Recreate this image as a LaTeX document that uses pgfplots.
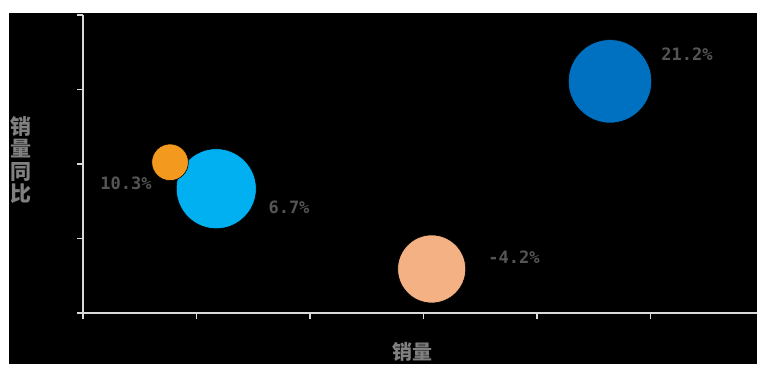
\documentclass[border=0pt]{standalone}
\usepackage{pgfplots}
\pgfplotsset{compat=1.18}
\usepackage{fontspec}
\setmainfont{Liberation Sans}
\newfontfamily\cjk{Noto Sans CJK SC}
\newfontfamily\lblfont{DejaVu Sans Mono}
\definecolor{axgray}{HTML}{D9D9D9}
\definecolor{lblgray}{HTML}{555555}
\definecolor{titlegray}{HTML}{808080}
\definecolor{cOrange}{HTML}{F39A1E}
\definecolor{cLBlue}{HTML}{00B0F0}
\definecolor{cPeach}{HTML}{F4B183}
\definecolor{cDBlue}{HTML}{0070C0}
\begin{document}
\begin{tikzpicture}[x=1pt,y=1pt]
\useasboundingbox (0,0) rectangle (757,364);
\fill[white] (0,0) rectangle (757,364);
\fill[black] (9,0) rectangle (757,351);
\begin{axis}[
  at={(83pt,51pt)}, anchor=origin,
  scale only axis, width=674pt, height=298pt,
  xmin=0, xmax=5.938, ymin=0, ymax=4,
  axis x line=bottom, axis y line=left,
  axis line style={-, draw=axgray, line width=2pt},
  xtick={0,1,2,3,4,5}, ytick={0,1,2,3,4},
  xticklabels={}, yticklabels={},
  tick align=outside, major tick length=6pt,
  every tick/.style={draw=axgray, line width=1.6pt},
  clip=false,
]
\addplot[only marks, mark=*, mark size=40pt, mark options={fill=cLBlue, draw=black, line width=0.6pt}] coordinates {(1.174,1.668)};
\addplot[only marks, mark=*, mark size=18.3pt, mark options={fill=cOrange, draw=black, line width=0.6pt}] coordinates {(0.767,2.023)};
\addplot[only marks, mark=*, mark size=34pt, mark options={fill=cPeach, draw=black, line width=0.6pt}] coordinates {(3.072,0.591)};
\addplot[only marks, mark=*, mark size=41.7pt, mark options={fill=cDBlue, draw=black, line width=0.6pt}] coordinates {(4.643,3.110)};
\begin{scope}[every node/.style={font=\lblfont\bfseries\fontsize{17}{17}\selectfont, text=lblgray}]
\node at (axis cs:0.379,1.745) {10.3\%};
\node at (axis cs:1.815,1.423) {6.7\%};
\node at (axis cs:3.797,0.752) {-4.2\%};
\node at (axis cs:5.322,3.477) {21.2\%};
\end{scope}
\end{axis}
\node[font=\cjk\bfseries\fontsize{21}{22.5}\selectfont, text=titlegray, align=center] at (21,204) {销\\量\\同\\比};
\node[font=\cjk\bfseries\fontsize{20}{20}\selectfont, text=titlegray] at (412,12) {销量};
\end{tikzpicture}
\end{document}
